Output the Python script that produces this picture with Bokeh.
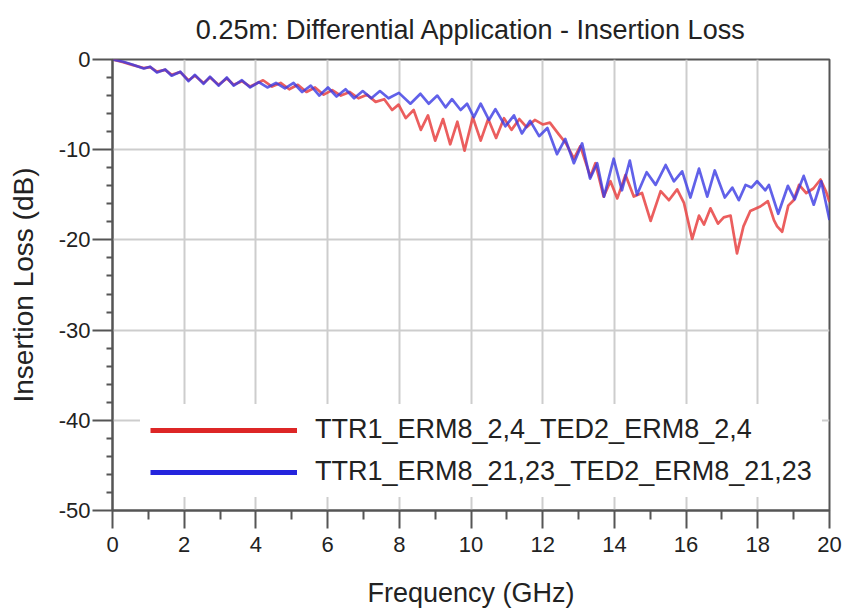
from bokeh.plotting import figure
from bokeh.models import (ColumnDataSource, Range1d, FixedTicker, Legend, LegendItem)
from bokeh.embed import file_html
from bokeh.resources import INLINE

TITLE = "0.25m: Differential Application - Insertion Loss"
X_LABEL = "Frequency (GHz)"
Y_LABEL = "Insertion Loss (dB)"
SERIES_NAMES = ["TTR1_ERM8_2,4_TED2_ERM8_2,4", "TTR1_ERM8_21,23_TED2_ERM8_21,23"]
X_TICKS = [0, 2, 4, 6, 8, 10, 12, 14, 16, 18, 20]
Y_TICKS = [-50, -40, -30, -20, -10, 0]
X_MINOR = [1, 3, 5, 7, 9, 11, 13, 15, 17, 19]
Y_MINOR = [-48, -46, -44, -42, -38, -36, -34, -32, -28, -26, -24, -22,
           -18, -16, -14, -12, -8, -6, -4, -2]

RED_F = [0.00, 0.30, 0.55, 0.87, 1.05, 1.24, 1.47, 1.65, 1.89, 2.12, 2.30, 2.54,
         2.72, 2.96, 3.19, 3.38, 3.61, 3.84, 4.20, 4.45, 4.69, 4.93, 5.17, 5.41,
         5.65, 5.89, 6.13, 6.37, 6.62, 6.86, 7.10, 7.34, 7.58, 7.80, 7.98, 8.18,
         8.40, 8.60, 8.80, 9.00, 9.22, 9.42, 9.62, 9.82, 10.05, 10.27, 10.48, 10.70,
         10.92, 11.13, 11.35, 11.55, 11.78, 12.00, 12.20, 12.45, 12.65, 12.87, 13.05,
         13.33, 13.47, 13.70, 13.89, 14.08, 14.31, 14.54, 14.77, 15.01, 15.29, 15.52,
         15.75, 15.94, 16.17, 16.36, 16.50, 16.68, 16.89, 17.05, 17.24, 17.42, 17.60,
         17.79, 18.07, 18.28, 18.45, 18.54, 18.68, 18.85, 19.00, 19.15, 19.35, 19.55,
         19.75, 19.90, 20.00]
RED_DB = [0.0, -0.3, -0.6, -0.95, -0.85, -1.35, -1.15, -1.7, -1.4, -2.3, -1.8, -2.6,
          -2.0, -2.8, -2.1, -2.8, -2.4, -3.0, -2.3, -3.0, -2.6, -3.3, -2.8, -3.6,
          -3.1, -3.9, -3.4, -4.0, -3.6, -4.3, -3.9, -4.7, -4.4, -5.6, -5.0, -6.5,
          -5.6, -7.8, -6.2, -9.0, -6.6, -9.4, -6.9, -10.1, -6.4, -9.0, -6.6, -8.7,
          -6.5, -7.8, -6.6, -7.5, -6.7, -7.2, -7.0, -8.3, -9.3, -11.0, -9.6,
          -13.0, -11.5, -15.2, -13.5, -15.4, -12.8, -15.2, -14.8, -17.9, -14.6, -15.6,
          -14.4, -15.9, -19.9, -17.3, -18.3, -16.5, -18.2, -17.5, -17.3, -21.5, -18.5,
          -16.8, -16.3, -15.7, -17.8, -18.5, -19.1, -16.2, -15.6, -13.9, -14.8, -14.3,
          -13.3, -14.6, -15.8]

BLUE_F = [0.00, 0.30, 0.55, 0.87, 1.05, 1.24, 1.47, 1.65, 1.89, 2.12, 2.30, 2.54,
          2.72, 2.96, 3.19, 3.38, 3.61, 3.84, 4.08, 4.32, 4.56, 4.81, 5.05, 5.29,
          5.53, 5.77, 6.01, 6.25, 6.50, 6.74, 6.98, 7.22, 7.46, 7.70, 7.99, 8.31,
          8.59, 8.82, 9.06, 9.29, 9.47, 9.71, 9.89, 10.08, 10.27, 10.50, 10.68, 10.96,
          11.20, 11.42, 11.65, 11.90, 12.13, 12.40, 12.63, 12.87, 13.10, 13.32, 13.52,
          13.71, 13.98, 14.21, 14.43, 14.63, 14.90, 15.15, 15.43, 15.66, 15.89, 16.12,
          16.36, 16.59, 16.80, 17.08, 17.29, 17.47, 17.66, 17.82, 17.98, 18.21, 18.31,
          18.57, 18.84, 19.03, 19.28, 19.56, 19.77, 20.00]
BLUE_DB = [0.0, -0.25, -0.55, -1.0, -0.8, -1.45, -1.1, -1.8, -1.35, -2.4, -1.7, -2.7,
           -1.9, -2.9, -2.0, -2.9, -2.3, -3.1, -2.5, -3.1, -2.6, -3.2, -2.6, -3.6,
           -2.9, -4.0, -3.1, -4.1, -3.3, -4.3, -3.5, -4.3, -3.5, -4.3, -3.7, -4.9,
           -3.8, -4.9, -4.0, -5.3, -4.4, -5.6, -4.9, -6.4, -4.9, -6.7, -5.5, -7.4,
           -6.2, -8.2, -6.8, -8.5, -7.6, -10.5, -8.8, -11.5, -9.3, -13.2, -11.5,
           -15.2, -11.0, -14.5, -11.2, -15.0, -12.5, -13.9, -11.7, -13.5, -12.4, -15.3,
           -12.1, -15.2, -12.3, -15.3, -14.2, -15.6, -13.9, -14.2, -13.5, -14.5, -13.9,
           -17.1, -14.0, -15.5, -12.9, -16.1, -13.5, -17.8]

FONT = "Liberation Sans"
RED = "#e84242"
BLUE = "#3a3ae4"

p = figure(width=844, height=610, output_backend="svg", toolbar_location=None,
           x_range=Range1d(0, 20), y_range=Range1d(-50, 0),
           min_border_left=112, min_border_right=15, min_border_top=59,
           min_border_bottom=98)

p.title.text = TITLE
p.title.align = "center"
p.title.vertical_align = "top"
p.title.text_font = FONT
p.title.text_font_size = "27px"
p.title.text_font_style = "normal"
p.title.text_color = "#222222"
p.title.standoff = 26

p.outline_line_color = "#555555"
p.outline_line_width = 2
p.background_fill_color = "white"
p.border_fill_color = "white"

p.xaxis.ticker = FixedTicker(ticks=X_TICKS, minor_ticks=X_MINOR)
p.yaxis.ticker = FixedTicker(ticks=Y_TICKS, minor_ticks=Y_MINOR)
p.xaxis.major_label_overrides = {t: str(t) for t in X_TICKS}
p.yaxis.major_label_overrides = {t: str(t) for t in Y_TICKS}
p.xaxis.axis_label = X_LABEL
p.yaxis.axis_label = Y_LABEL
for ax in (p.xaxis, p.yaxis):
    ax.axis_label_text_font = FONT
    ax.axis_label_text_font_style = "normal"
    ax.axis_label_text_color = "#222222"
    ax.major_label_text_font = FONT
    ax.major_label_text_font_size = "22px"
    ax.major_label_text_color = "#222222"
    ax.axis_line_color = "#555555"
    ax.axis_line_width = 2
    ax.major_tick_line_color = "#555555"
    ax.major_tick_line_width = 2
    ax.minor_tick_line_color = "#555555"
    ax.minor_tick_line_width = 2
    ax.major_tick_in = 0
    ax.minor_tick_in = 0
p.xaxis.axis_label_text_font_size = "27px"
p.yaxis.axis_label_text_font_size = "28px"
p.xaxis.major_tick_out = 18
p.xaxis.minor_tick_out = 9
p.xaxis.major_label_standoff = 8
p.xaxis.axis_label_standoff = 23
p.yaxis.major_tick_out = 20
p.yaxis.minor_tick_out = 6
p.yaxis.major_label_standoff = 2
p.yaxis.axis_label_standoff = 17

p.grid.grid_line_color = "#cdcdcd"
p.grid.grid_line_width = 2

red_src = ColumnDataSource(data=dict(f=RED_F, db=RED_DB))
blue_src = ColumnDataSource(data=dict(f=BLUE_F, db=BLUE_DB))
p.line("f", "db", source=red_src, line_color=RED, line_width=2.7, line_alpha=0.85,
       line_join="round")
p.line("f", "db", source=blue_src, line_color=BLUE, line_width=2.7, line_alpha=0.8,
       line_join="round")

# legend-only renderers (thicker lines, nothing drawn in the plot)
nan = float("nan")
empty = ColumnDataSource(data=dict(f=[nan], db=[nan]))
leg_red = p.line("f", "db", source=empty, line_color="#dd2626", line_width=5)
leg_blue = p.line("f", "db", source=empty, line_color="#2424dd", line_width=5)

legend = Legend(items=[LegendItem(label=SERIES_NAMES[0], renderers=[leg_red]),
                       LegendItem(label=SERIES_NAMES[1], renderers=[leg_blue])],
                location=(28, 13))
legend.label_text_font = FONT
legend.label_text_font_size = "27px"
legend.label_text_color = "#222222"
legend.glyph_width = 147
legend.glyph_height = 26
legend.label_standoff = 18
legend.spacing = 11
legend.padding = 10
legend.margin = 0
legend.border_line_alpha = 0
legend.background_fill_color = "white"
legend.background_fill_alpha = 1.0
p.add_layout(legend, "center")

open("out.html", "w").write(file_html(p, INLINE))
